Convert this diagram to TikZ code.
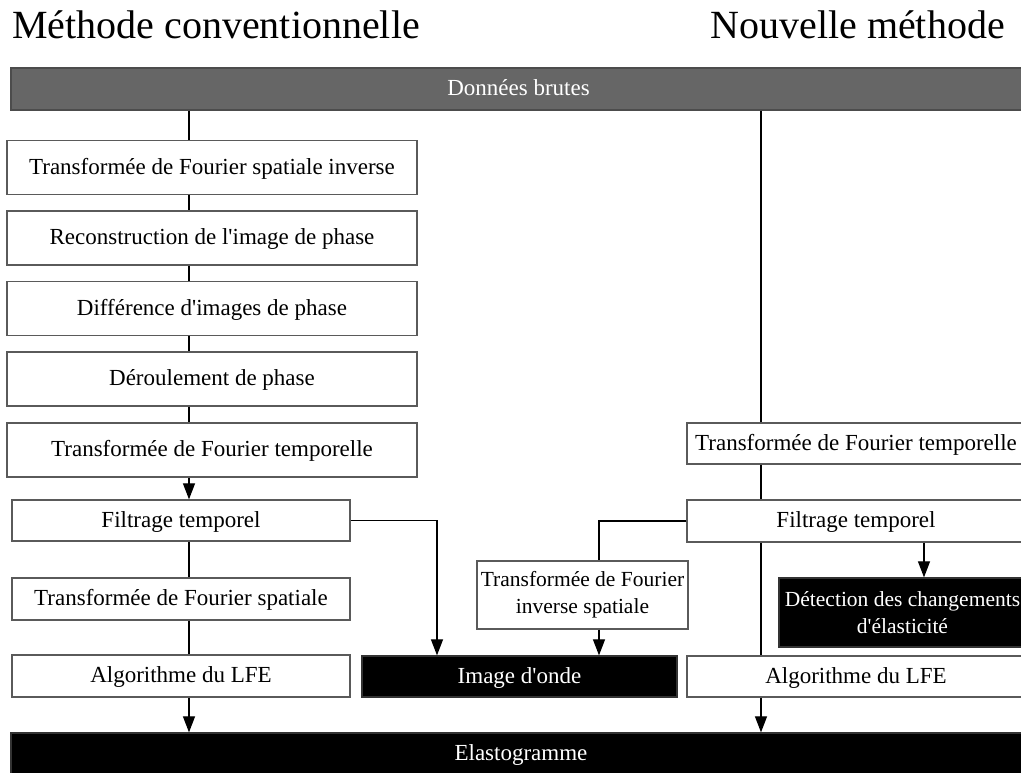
\documentclass[tikz,border=0pt]{standalone}
\usepackage{fontspec}
\setmainfont{Liberation Serif}
\usetikzlibrary{arrows.meta}
\definecolor{rawgray}{HTML}{666666}
\definecolor{edgegray}{HTML}{5A5A5A}
\begin{document}
\begin{tikzpicture}[x=1pt,y=-1pt,
  box/.style={draw=edgegray,line width=1.3pt,fill=white,rectangle,inner sep=0pt,
    font=\fontsize{23}{27}\selectfont},
  oneline/.style={text height=16pt,text depth=3pt},
  twoline/.style={align=center,font=\fontsize{21.5}{27}\selectfont},
  dark/.style={box,fill=black,draw=black!80,text=white},
  conn/.style={draw=black,line width=1.2pt},
  arr/.style={conn,-{Triangle[length=16pt,width=12pt]}},
  title/.style={font=\fontsize{40}{46}\selectfont,inner sep=0pt}]
\useasboundingbox (0,0) rectangle (1021,772);

% column titles
\node[title,anchor=base west] (t1) at (12,38) {Méthode conventionnelle};
\node[title,anchor=base east] (t2) at (1005,38) {Nouvelle méthode};

% raw data bar
\node[box,oneline,fill=rawgray,draw=black!70,text=white,minimum width=1015pt,minimum height=42pt]
  (raw) at (518.5,89) {Données brutes};

% conventional chain
\node[box,oneline,minimum width=410pt,minimum height=54pt] (b1) at (212,167.5) {Transformée de Fourier spatiale inverse};
\node[box,oneline,minimum width=410pt,minimum height=54pt] (b2) at (212,238) {Reconstruction de l\textquotesingle image de phase};
\node[box,oneline,minimum width=410pt,minimum height=54pt] (b3) at (212,308.5) {Différence d\textquotesingle images de phase};
\node[box,oneline,minimum width=410pt,minimum height=54pt] (b4) at (212,379) {Déroulement de phase};
\node[box,oneline,minimum width=410pt,minimum height=54pt] (b5) at (212,450) {Transformée de Fourier temporelle};
\node[box,oneline,minimum width=338pt,minimum height=41pt] (filt1) at (181,520.5) {Filtrage temporel};
\node[box,oneline,minimum width=338pt,minimum height=42pt] (tfs) at (181,599) {Transformée de Fourier spatiale};
\node[box,oneline,minimum width=338pt,minimum height=42pt] (lfe1) at (181,676) {Algorithme du LFE};

% wave image branch
\node[dark,oneline,minimum width=315pt,minimum height=41pt] (onde) at (519.5,676.5) {Image d\textquotesingle onde};
\node[box,twoline,minimum width=211pt,minimum height=68pt] (tfi) at (582.5,595) {Transformée de Fourier\\inverse spatiale};

% new method chain
\node[box,oneline,minimum width=338pt,minimum height=41pt] (tft2) at (856,443.5) {Transformée de Fourier temporelle};
\node[box,oneline,minimum width=338pt,minimum height=42pt] (filt2) at (856,521) {Filtrage temporel};
\node[dark,twoline,minimum width=247pt,minimum height=69pt] (det) at (902.5,612.5) {Détection des changements\\d\textquotesingle élasticité};
\node[box,oneline,minimum width=338pt,minimum height=41pt] (lfe2) at (856,676.5) {Algorithme du LFE};

% elastogram bar
\node[dark,oneline,minimum width=1020pt,minimum height=42pt] (elast) at (521,754) {Elastogramme};

% connector columns
\coordinate (lx) at (189,0);
\coordinate (rx) at (761,0);
\coordinate (ox) at (437,0);
\coordinate (ix) at (599,0);
\coordinate (dx) at (924,0);

% conventional connectors
\draw[conn] (raw.south -| lx) -- (b1.north -| lx);
\draw[conn] (b1.south -| lx) -- (b2.north -| lx);
\draw[conn] (b2.south -| lx) -- (b3.north -| lx);
\draw[conn] (b3.south -| lx) -- (b4.north -| lx);
\draw[conn] (b4.south -| lx) -- (b5.north -| lx);
\draw[arr] (b5.south -| lx) -- (filt1.north -| lx);
\draw[conn] (filt1.south -| lx) -- (tfs.north -| lx);
\draw[conn] (tfs.south -| lx) -- (lfe1.north -| lx);
\draw[arr] (lfe1.south -| lx) -- (elast.north -| lx);
\draw[arr] (filt1.east) -| (onde.north -| ox);

% new method connectors
\draw[conn] (raw.south -| rx) -- (tft2.north -| rx);
\draw[conn] (tft2.south -| rx) -- (filt2.north -| rx);
\draw[conn] (filt2.south -| rx) -- (lfe2.north -| rx);
\draw[arr] (lfe2.south -| rx) -- (elast.north -| rx);
\draw[conn] (filt2.west) -| (tfi.north -| ix);
\draw[arr] (tfi.south -| ix) -- (onde.north -| ix);
\draw[arr] (filt2.south -| dx) -- (det.north -| dx);
\end{tikzpicture}
\end{document}
